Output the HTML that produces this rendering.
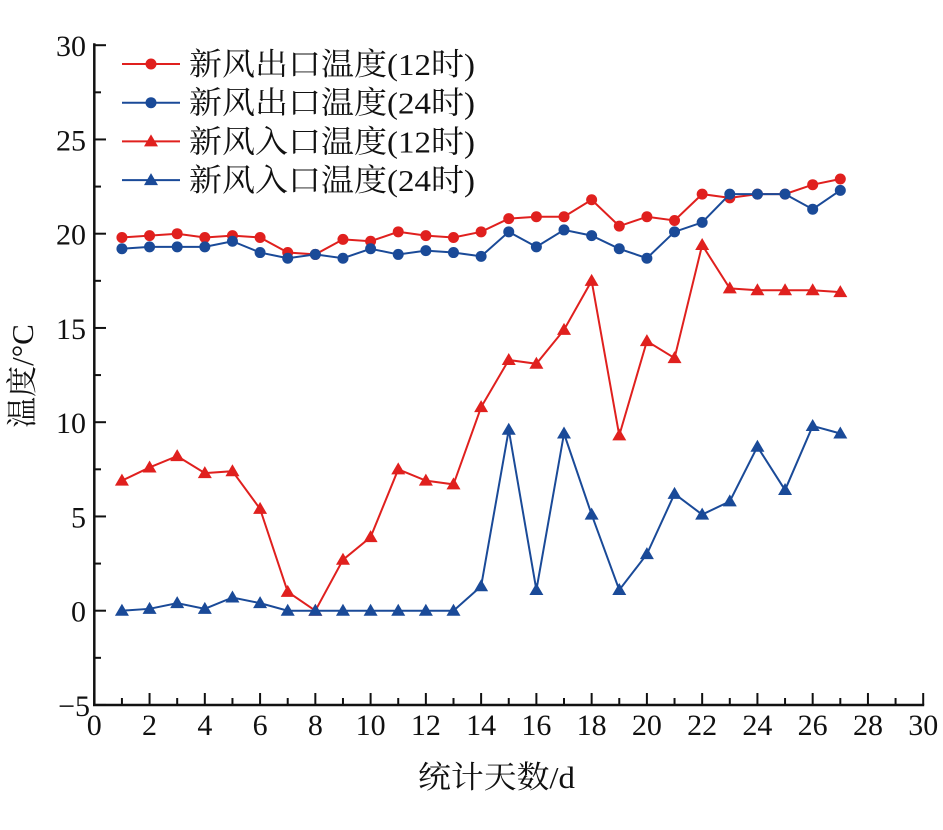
<!DOCTYPE html>
<html><head><meta charset="utf-8"><style>
html,body{margin:0;padding:0;background:#fff;}
svg text{font-family:"Liberation Serif","Noto Serif CJK SC",serif;fill:#111;}
</style></head><body>
<svg id="s" width="943" height="825" xmlns="http://www.w3.org/2000/svg"></svg>
<script>
const s=document.getElementById('s');const NS='http://www.w3.org/2000/svg';
function el(t,a,txt){const e=document.createElementNS(NS,t);for(const k in a)e.setAttribute(k,a[k]);if(txt!==undefined)e.textContent=txt;s.appendChild(e);return e;}
const X=v=>94.3+27.63*v, Y=v=>610.7-18.85*v;
el('line',{x1:94.3,y1:Y(30)-2,x2:94.3,y2:705,stroke:'#111','stroke-width':2.5});
el('line',{x1:93,y1:705,x2:X(30)+1,y2:705,stroke:'#111','stroke-width':2.5});
for(let v=0;v<=30;v+=1){const x=X(v);el('line',{x1:x,y1:705,x2:x,y2:v%2?698:693,stroke:'#111','stroke-width':2});
 if(v%2==0)el('text',{x:x,y:735,'font-size':30,'text-anchor':'middle'},String(v));}
for(let v=-5;v<=30;v+=2.5){const y=Y(v);el('line',{x1:94.3,y1:y,x2:(v%5==0)?106:101,y2:y,stroke:'#111','stroke-width':2});
 if(v%5==0)el('text',{x:v<0?90:86,y:y+11,'font-size':30,'text-anchor':'end'},v<0?'\u22125':String(v));}
el('text',{x:418,y:788,'font-size':31,textLength:157,lengthAdjust:'spacingAndGlyphs'},'统计天数/d');
el('text',{x:0,y:0,'font-size':31,'text-anchor':'middle',transform:'translate(33,376) rotate(-90)'},'温度/°C');
const R='#e0201e',B='#1a4a98';
const d=[
[R,'c',[19.8,19.9,20,19.8,19.9,19.8,19,18.9,19.7,19.6,20.1,19.9,19.8,20.1,20.8,20.9,20.9,21.8,20.4,20.9,20.7,22.1,21.9,22.1,22.1,22.6,22.9]],
[B,'c',[19.2,19.3,19.3,19.3,19.6,19,18.7,18.9,18.7,19.2,18.9,19.1,19,18.8,20.1,19.3,20.2,19.9,19.2,18.7,20.1,20.6,22.1,22.1,22.1,21.3,22.3]],
[R,'t',[6.9,7.6,8.2,7.3,7.4,5.4,1,0,2.7,3.9,7.5,6.9,6.7,10.8,13.3,13.1,14.9,17.5,9.3,14.3,13.4,19.4,17.1,17,17,17,16.9]],
[B,'t',[0,0.1,0.4,0.1,0.7,0.4,0,0,0,0,0,0,0,1.3,9.6,1.1,9.4,5.1,1.1,3,6.2,5.1,5.8,8.7,6.4,9.8,9.4]]];
function mk(c,t,x,y){if(t=='c')el('circle',{cx:x,cy:y,r:5.5,fill:c});else el('polygon',{points:`${x},${y-7} ${x-7},${y+5} ${x+7},${y+5}`,fill:c});}
d.forEach(([c,t,v])=>{el('polyline',{points:v.map((a,i)=>X(i+1)+','+Y(a)).join(' '),fill:'none',stroke:c,'stroke-width':2});v.forEach((a,i)=>mk(c,t,X(i+1),Y(a)));});
const L=['新风出口温度(12时)','新风出口温度(24时)','新风入口温度(12时)','新风入口温度(24时)'];
L.forEach((txt,i)=>{const y=64+i*38.7;const [c,t]=d[i];el('line',{x1:122,y1:y,x2:180,y2:y,stroke:c,'stroke-width':2});mk(c,t,151,y);
 el('text',{x:189,y:y+11,'font-size':31,textLength:286,lengthAdjust:'spacingAndGlyphs'},txt);});
</script>
</body></html>
